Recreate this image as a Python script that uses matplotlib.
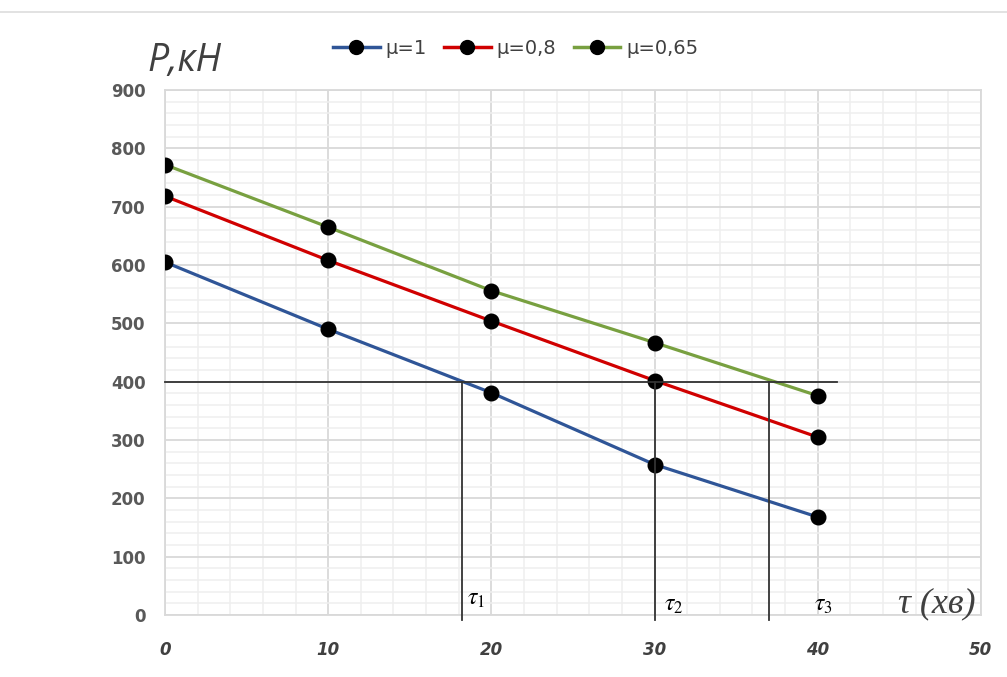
import matplotlib
matplotlib.use("Agg")
import matplotlib.pyplot as plt
from matplotlib.lines import Line2D
from matplotlib.ticker import MultipleLocator

plt.rcParams["mathtext.fontset"] = "stix"

# time points (min)
t = [0, 10, 20, 30, 40]
# load P, kN for each friction coefficient
p_mu1 = [605, 490, 381, 258, 168]
p_mu08 = [718, 608, 504, 402, 305]
p_mu065 = [772, 665, 556, 467, 376]
labels = ["μ=1", "μ=0,8", "μ=0,65"]

# level P = 400 and where each curve reaches it
p_level = 400
tau = [18.2, 30.0, 37.0]
tau_names = [r"$\tau_1$", r"$\tau_2$", r"$\tau_3$"]

colors = ["#2F5597", "#D00000", "#78A040"]

fig = plt.figure(figsize=(10.07, 6.77), dpi=100)
ax = fig.add_axes([0.1639, 0.0916, 0.974 - 0.1639, 0.867 - 0.0916])

for p, c in zip([p_mu1, p_mu08, p_mu065], colors):
    ax.plot(t, p, color=c, lw=2.3, zorder=3)
    ax.plot(t, p, "o", color="black", ms=10.5, zorder=4)

ax.set_xlim(0, 50)
ax.set_ylim(0, 900)
ax.xaxis.set_major_locator(MultipleLocator(10))
ax.xaxis.set_minor_locator(MultipleLocator(2))
ax.yaxis.set_major_locator(MultipleLocator(100))
ax.yaxis.set_minor_locator(MultipleLocator(20))
ax.grid(which="major", color="#d9d9d9", lw=1.3)
ax.grid(which="minor", color="#efefef", lw=1.1)
ax.set_axisbelow(True)
for s in ax.spines.values():
    s.set_color("#d9d9d9")
    s.set_linewidth(1.3)
ax.tick_params(which="both", length=0)
ax.tick_params(axis="y", pad=14, labelcolor="#595959", labelsize=12)
ax.tick_params(axis="x", pad=19, labelcolor="#404040", labelsize=12)
for lbl in ax.get_yticklabels():
    lbl.set_fontweight("bold")
for lbl in ax.get_xticklabels():
    lbl.set_fontweight("bold")
    lbl.set_fontstyle("italic")

# construction lines
ax.plot([0, 41.2], [p_level, p_level], color="#333333", lw=1.3, zorder=5, clip_on=False)
for tt in tau:
    ax.plot([tt, tt], [p_level, -8], color="#333333", lw=1.3, zorder=5, clip_on=False)

ax.text(18.5, 18, tau_names[0], fontsize=17)
ax.text(30.6, 8, tau_names[1], fontsize=17)
ax.text(39.8, 8, tau_names[2], fontsize=17)
ax.text(44.9, 5, "τ (хв)", fontsize=26, family="Liberation Serif", style="italic",
        color="#404040")

fig.text(0.146, 0.895, "P,кН", fontsize=27, style="italic", color="#404040",
         family="Open Sans")

handles = [Line2D([0], [0], color=c, lw=2.5, marker="o", mfc="black", mec="black", ms=10)
           for c in colors]
fig.legend(handles, labels, loc="center", bbox_to_anchor=(0.512, 0.928), ncol=3,
           frameon=False, fontsize=14, handlelength=2.4, columnspacing=0.9,
           handletextpad=0.3, labelcolor="#404040")

# faint frame line at the top
fig.add_artist(Line2D([0, 1], [0.982, 0.982], color="#dddddd", lw=1.2))

fig.savefig("out.png", dpi=100)
